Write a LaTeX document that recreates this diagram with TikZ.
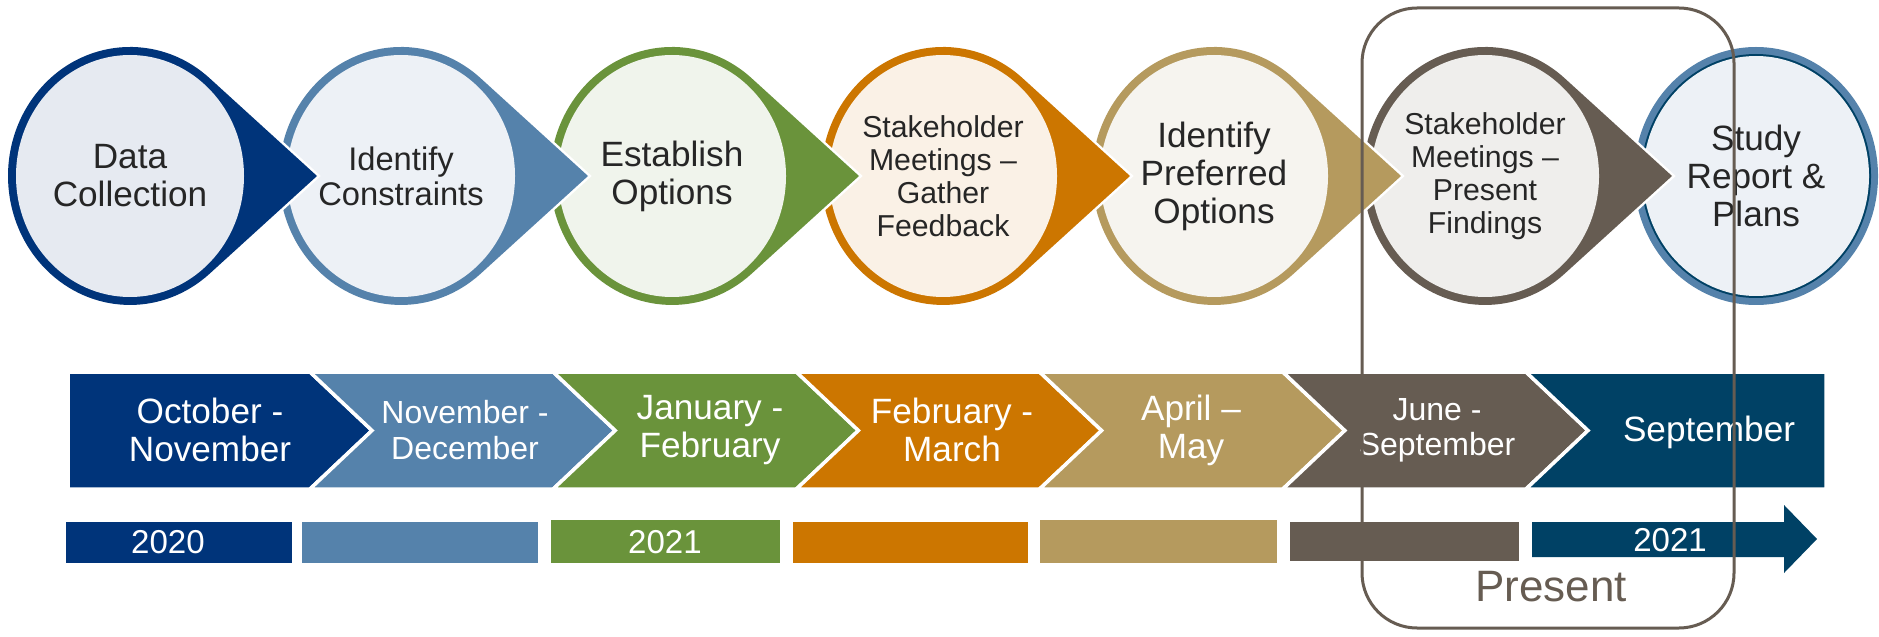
\documentclass[tikz,border=0pt]{standalone}
\usepackage{fontspec}
\setmainfont{Liberation Sans}
\usepackage{tikz}

\definecolor{navy}{HTML}{00347A}
\definecolor{steel}{HTML}{5582AB}
\definecolor{leaf}{HTML}{6A933B}
\definecolor{amber}{HTML}{CC7600}
\definecolor{sand}{HTML}{B59A5E}
\definecolor{taupe}{HTML}{665C52}
\definecolor{deepteal}{HTML}{004165}
\definecolor{inkgray}{HTML}{262626}
\definecolor{navylight}{HTML}{E6EAF1}
\definecolor{steellight}{HTML}{EDF1F6}
\definecolor{leaflight}{HTML}{F0F4EC}
\definecolor{amberlight}{HTML}{FAF1E6}
\definecolor{sandlight}{HTML}{F6F4EF}
\definecolor{taupelight}{HTML}{EFEEEC}

\begin{document}
\begin{tikzpicture}[x=0.01cm, y=0.01cm,
		halo/.style={draw=white, line width=0.05cm},
		tear/.style={insert path={(187,0) -- (79.6,97.8) arc[start angle=49.28, end angle=310.72, x radius=122, y radius=129] -- cycle}},
		face/.style={insert path={(0,0) ellipse[x radius=114, y radius=121]}},
		steplabel/.style={text=inkgray, align=center},
		band/.style={draw=white, line width=0.035cm},
		monthlabel/.style={text=white, align=center, font=\fontsize{10}{10.8}\selectfont},
		yearlabel/.style={text=white, font=\fontsize{9.4}{10}\selectfont}]
		\useasboundingbox (0,0) rectangle (1879,636);
		% steps, drawn right to left so each pointer lies over the next circle
		\begin{scope}[shift={(1756,460)}]
			\fill[steel] (0,0) ellipse[x radius=122, y radius=129];
			\fill[deepteal] (0,0) ellipse[x radius=115, y radius=122];
			\fill[steellight] (0,0) ellipse[x radius=113, y radius=120];
			\node[steplabel, font=\fontsize{10}{10.8}\selectfont] (report) at (0,0) {Study\\Report \&\\Plans};
		\end{scope}
		\begin{scope}[shift={(1485,460)}]
			\path[halo, tear];
			\fill[taupe, tear];
			\fill[taupelight, face];
			\node[steplabel, font=\fontsize{8.6}{9.4}\selectfont] (present) at (0,0) {Stakeholder\\Meetings --\\Present\\Findings};
		\end{scope}
		\begin{scope}[shift={(1214,460)}]
			\path[halo, tear];
			\fill[sand, tear];
			\fill[sandlight, face];
			\node[steplabel, font=\fontsize{10}{10.8}\selectfont] (preferred) at (0,0) {Identify\\Preferred\\Options};
		\end{scope}
		\begin{scope}[shift={(943,460)}]
			\path[halo, tear];
			\fill[amber, tear];
			\fill[amberlight, face];
			\node[steplabel, font=\fontsize{8.6}{9.4}\selectfont] (gather) at (0,0) {Stakeholder\\Meetings --\\Gather\\Feedback};
		\end{scope}
		\begin{scope}[shift={(672,460)}]
			\path[halo, tear];
			\fill[leaf, tear];
			\fill[leaflight, face];
			\node[steplabel, font=\fontsize{10}{10.8}\selectfont] (options) at (0,0) {Establish\\Options};
		\end{scope}
		\begin{scope}[shift={(401,460)}]
			\path[halo, tear];
			\fill[steel, tear];
			\fill[steellight, face];
			\node[steplabel, font=\fontsize{9.3}{10}\selectfont] (constraints) at (0,0) {Identify\\Constraints};
		\end{scope}
		\begin{scope}[shift={(130,460)}]
			\path[halo, tear];
			\fill[navy, tear];
			\fill[navylight, face];
			\node[steplabel, font=\fontsize{10}{10.8}\selectfont] (data) at (0,0) {Data\\Collection};
		\end{scope}
		% month chevrons
		\filldraw[band, fill=navy] (68,264) -- (310,264) -- (372,205.5) -- (310,147) -- (68,147) -- cycle;
		\filldraw[band, fill=steel] (310,264) -- (553.2,264) -- (615.2,205.5) -- (553.2,147) -- (310,147) -- (372,205.5) -- cycle;
		\filldraw[band, fill=leaf] (553.2,264) -- (796.4,264) -- (858.4,205.5) -- (796.4,147) -- (553.2,147) -- (615.2,205.5) -- cycle;
		\filldraw[band, fill=amber] (796.4,264) -- (1039.6,264) -- (1101.6,205.5) -- (1039.6,147) -- (796.4,147) -- (858.4,205.5) -- cycle;
		\filldraw[band, fill=sand] (1039.6,264) -- (1282.8,264) -- (1344.8,205.5) -- (1282.8,147) -- (1039.6,147) -- (1101.6,205.5) -- cycle;
		\filldraw[band, fill=taupe] (1282.8,264) -- (1526,264) -- (1588,205.5) -- (1526,147) -- (1282.8,147) -- (1344.8,205.5) -- cycle;
		\filldraw[band, fill=deepteal] (1526,264) -- (1826,264) -- (1826,147) -- (1526,147) -- (1588,205.5) -- cycle;
		\node[monthlabel] (octnov) at (210,206) {October -\\November};
		\node[monthlabel, font=\fontsize{9.1}{10}\selectfont] (novdec) at (465,206) {November -\\December};
		\node[monthlabel] (janfeb) at (710,206) {January -\\February};
		\node[monthlabel] (febmar) at (952,206) {February -\\March};
		\node[monthlabel] (aprmay) at (1191,206) {April --\\May};
		\node[monthlabel, font=\fontsize{9.1}{10}\selectfont] (junsep) at (1437,206) {June -\\September};
		\node[monthlabel] (sep) at (1709,204) {September};
		% year bars
		\fill[navy] (66,73) rectangle (292,114);
		\fill[steel] (302,73) rectangle (538,114);
		\fill[leaf] (551,73) rectangle (780,116);
		\fill[amber] (793,73) rectangle (1028,114);
		\fill[sand] (1040,73) rectangle (1277,116);
		\fill[taupe] (1290,75) rectangle (1519,114);
		\fill[deepteal] (1532,114) -- (1784,114) -- (1784,131) -- (1817,97) -- (1784,63) -- (1784,79) -- (1532,79) -- cycle;
		\node[yearlabel] (y2020) at (168,94) {2020};
		\node[yearlabel] (y2021a) at (665,94) {2021};
		\node[yearlabel] (y2021b) at (1670,96) {2021};
		% present marker
		\draw[taupe, line width=0.03cm, rounded corners=0.55cm] (1362,8) rectangle (1734,628);
		\node[text=taupe, font=\fontsize{12.5}{14}\selectfont] (now) at (1551,49) {Present};
	\end{tikzpicture}
\end{document}
